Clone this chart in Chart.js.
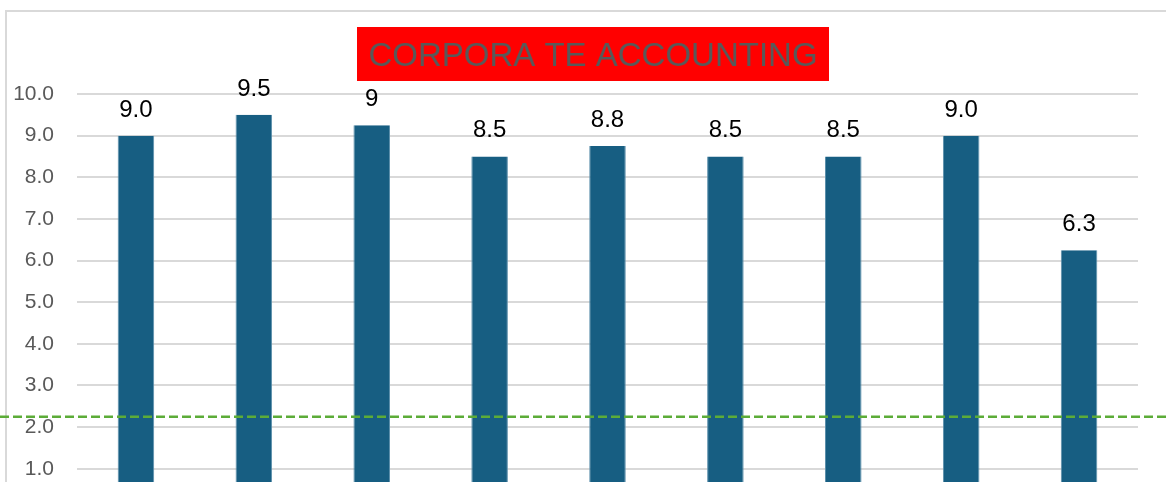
<!DOCTYPE html>
<html lang="en">
<head>
  <meta charset="UTF-8">
  <title>Corporate Accounting</title>
  <script src="https://cdn.jsdelivr.net/npm/chart.js"></script>
  <style>
    html, body { margin: 0; padding: 0; background: #fff; overflow: hidden; }
    canvas { display: block; }
  </style>
</head>
<body>
  <canvas id="chart" width="1166" height="546"></canvas>

  <script>
    // values
    const categories = ["Q1", "Q2", "Q3", "Q4", "Q5", "Q6", "Q7", "Q8", "Q9"];
    const scores = [9.0, 9.5, 9.25, 8.5, 8.75, 8.5, 8.5, 9.0, 6.25];
    const scoreLabels = ["9.0", "9.5", "9", "8.5", "8.8", "8.5", "8.5", "9.0", "6.3"];
    const targetValue = 2.25;
    const yTicks = { min: 0, max: 10, step: 1 };
    const titleText = "CORPORA TE ACCOUNTING";

    const fontFamily = "'Liberation Sans', Arial, sans-serif";

    // frame + title box + value labels + target line
    const decorations = {
      id: 'decorations',
      beforeDraw(chart) {
        const ctx = chart.ctx;
        ctx.save();
        ctx.strokeStyle = '#d9d9d9';
        ctx.lineWidth = 2;
        ctx.strokeRect(6, 11, 3000, 3000);
        ctx.restore();
      },
      afterDatasetsDraw(chart) {
        const ctx = chart.ctx;
        const meta = chart.getDatasetMeta(0);
        ctx.save();
        ctx.fillStyle = '#000';
        ctx.font = "24px " + fontFamily;
        ctx.textAlign = 'center';
        ctx.textBaseline = 'alphabetic';
        meta.data.forEach((bar, i) => {
          ctx.fillText(scoreLabels[i], bar.x, bar.y - 19);
        });
        ctx.restore();
      },
      afterDraw(chart) {
        const ctx = chart.ctx;
        const y = chart.scales.y.getPixelForValue(targetValue);
        ctx.save();
        ctx.strokeStyle = '#5cac38';
        ctx.lineWidth = 2.5;
        ctx.setLineDash([9, 4]);
        ctx.beginPath();
        ctx.moveTo(0, y);
        ctx.lineTo(chart.width, y);
        ctx.stroke();
        ctx.setLineDash([]);

        // title box
        ctx.fillStyle = '#ff0000';
        ctx.fillRect(357, 27, 472, 54);
        ctx.fillStyle = '#595959';
        ctx.font = "33px " + fontFamily;
        ctx.textAlign = 'center';
        ctx.textBaseline = 'alphabetic';
        ctx.fillText(titleText, 593, 66, 452);
        ctx.restore();
      }
    };

    new Chart(document.getElementById('chart').getContext('2d'), {
      type: 'bar',
      data: {
        labels: categories,
        datasets: [{
          data: scores,
          backgroundColor: '#175e82',
          borderColor: '#5b8fab',
          borderWidth: { left: 1, right: 1, top: 0, bottom: 0 },
          barPercentage: 0.31,
          categoryPercentage: 1.0
        }]
      },
      options: {
        responsive: false,
        animation: false,
        layout: { padding: { left: 0, right: 28, top: 94, bottom: 0 } },
        plugins: { legend: { display: false }, title: { display: false }, tooltip: { enabled: false } },
        scales: {
          x: { display: false },
          y: {
            min: yTicks.min,
            max: yTicks.max,
            afterFit: s => { s.width = 77; },
            border: { display: false },
            grid: { color: '#d9d9d9', lineWidth: 2, drawTicks: false },
            ticks: {
              stepSize: yTicks.step,
              padding: 23,
              color: '#595959',
              font: { size: 21, family: fontFamily },
              callback: v => v.toFixed(1)
            }
          }
        }
      },
      plugins: [decorations]
    });
  </script>
</body>
</html>
